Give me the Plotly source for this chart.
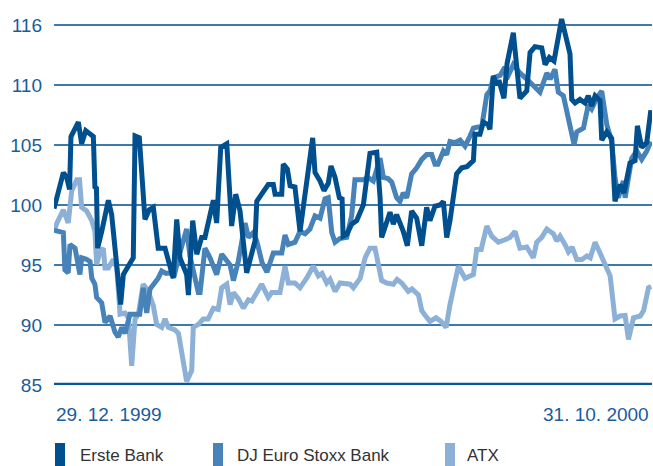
import plotly.graph_objects as go

# days after 29.12.1999
erste_days = [0.0, 4.8, 6.5, 8.0, 8.7, 12.5, 14.2, 16.3, 20.2, 21.0, 21.8, 22.4, 24.5, 27.9, 29.6,
              34.2, 35.6, 38.1, 40.7, 41.6, 43.8, 46.7, 48.9, 51.0, 53.5, 57.0, 61.2, 63.0, 64.7,
              68.1, 69.0, 71.2, 73.3, 75.8, 77.5, 81.8, 83.5, 85.6, 88.7, 91.2, 93.3, 95.5, 98.9,
              103.2, 104.1, 106.6, 110.0, 112.6, 113.5, 116.9, 117.7, 119.8, 121.2, 123.7, 126.3,
              132.8, 134.0, 136.6, 138.6, 140.8, 142.2, 144.3, 146.5, 147.9, 148.4, 150.3, 152.8,
              155.4, 158.8, 162.2, 165.7, 167.4, 168.2, 172.5, 174.2, 175.9, 179.3, 181.4, 183.6,
              186.2, 188.8, 191.3, 193.0, 195.6, 198.2, 199.9, 201.6, 203.3, 206.7, 209.3, 212.0,
              215.3, 216.1, 218.7, 220.4, 222.8, 223.8, 225.5, 227.4, 228.4, 231.0, 232.6, 235.8,
              239.2, 242.7, 244.4, 246.9, 250.4, 252.1, 254.3, 256.7, 260.6, 264.9, 265.8, 267.5,
              270.0, 272.6, 274.3, 276.0, 277.8, 280.3, 281.2, 283.8, 286.3, 288.0, 290.6, 292.6,
              295.7, 298.3, 299.5, 301.7, 304.3, 306.4]
erste_vals = [99.7, 102.7, 102.3, 101.3, 105.7, 106.9, 105.1, 106.2, 105.7, 101.5, 101.4, 96.4, 97.8, 100.4, 99.2,
              91.7, 94.2, 94.8, 95.6, 105.75, 105.6, 98.8, 99.6, 99.8, 96.4, 96.4, 93.9, 98.8, 95.6,
              94.2, 92.5, 98.7, 95.9, 97.3, 97.3, 100.4, 98.5, 104.8, 105.1, 98.25, 100.9, 99.5, 94.35,
              97.0, 100.3, 100.9, 101.7, 101.7, 100.9, 100.9, 103.4, 103.0, 101.6, 101.5, 97.8,
              105.6, 102.7, 102.0, 101.2, 101.8, 103.25, 102.3, 100.6, 100.5, 97.4, 97.55, 98.4,
              98.7, 100.0, 104.3, 104.4, 100.6, 97.3, 99.4, 98.4, 99.2, 97.8, 96.6, 99.5,
              98.9, 96.6, 99.8, 98.7, 99.9, 100.0, 100.3, 97.3, 98.7, 102.6, 103.1, 103.2,
              103.7, 105.9, 105.9, 106.9, 106.7, 106.3, 110.75, 110.0, 110.4, 108.9, 111.8, 114.35,
              108.9, 109.5, 112.7, 113.2, 113.1, 111.7, 112.3, 112.0, 115.5, 112.6, 108.8, 108.5,
              108.8, 108.5, 109.1, 108.25, 109.1, 108.7, 105.4, 106.1, 105.55, 100.3, 101.7, 101.0,
              103.5, 103.7, 106.6, 104.8, 105.2, 107.9]

dj_days = [0.0, 4.8, 5.6, 7.3, 8.2, 10.8, 13.3, 14.2, 16.4, 18.5, 19.4, 21.0, 21.9, 24.5, 26.2,
           28.8, 31.3, 33.0, 34.8, 36.5, 39.0, 44.0, 45.8, 47.6, 49.3, 53.5, 55.3, 57.5, 59.6,
           61.6, 63.9, 66.4, 68.1, 69.8, 74.1, 75.0, 77.5, 80.1, 83.5, 86.1, 88.3, 90.4, 92.1,
           94.6, 98.1, 99.8, 102.3, 104.1, 106.8, 109.3, 112.6, 116.9, 118.6, 120.3, 123.7,
           126.3, 128.9, 131.4, 134.0, 136.6, 139.1, 140.8, 142.6, 144.3, 146.8, 150.3, 152.8,
           154.5, 158.8, 161.2, 163.9, 167.4, 169.1, 171.5, 173.4, 175.9, 177.6, 179.3, 181.1,
           183.6, 186.2, 188.8, 191.3, 193.9, 195.6, 197.1, 199.9, 201.6, 203.3, 205.9, 208.5,
           211.0, 213.6, 215.3, 217.7, 219.6, 222.2, 223.8, 225.5, 229.0, 231.5, 232.4, 235.8,
           239.2, 242.7, 246.1, 249.5, 253.0, 254.7, 257.2, 258.9, 261.5, 264.1, 267.0, 268.4,
           271.8, 274.3, 276.0, 278.6, 281.2, 283.8, 286.3, 288.0, 289.7, 292.3, 293.2, 296.6,
           299.2, 301.7, 304.3, 306.4]
dj_vals = [97.9, 97.7, 94.6, 94.35, 96.7, 96.4, 94.2, 95.6, 95.5, 95.3, 93.9, 93.4, 92.3, 91.85, 90.2,
           90.75, 89.4, 89.0, 89.8, 89.3, 90.9, 90.9, 93.1, 91.0, 93.0, 93.9, 94.5, 94.3, 94.35,
           94.0, 95.6, 97.0, 98.0, 95.75, 92.7, 92.7, 96.4, 95.6, 94.2, 95.9, 95.5, 95.0, 93.7,
           95.3, 98.5, 97.3, 97.7, 97.0, 95.2, 94.4, 96.0, 96.0, 97.5, 96.7, 96.9,
           97.8, 97.6, 98.0, 99.1, 98.9, 100.5, 100.6, 97.7, 96.9, 97.2, 97.3, 99.1,
           102.1, 102.1, 102.3, 102.0, 103.9, 102.3, 102.2, 101.9, 100.6, 100.3, 101.0, 100.6,
           102.6, 103.1, 103.8, 104.2, 104.2, 103.4, 103.4, 104.5, 104.2, 105.3, 105.2, 105.4,
           104.9, 105.75, 106.4, 106.5, 106.5, 109.2, 109.5, 110.6, 110.8, 111.5, 110.5, 111.7,
           111.0, 110.5, 109.9, 109.4, 111.0, 110.5, 111.3, 109.4, 109.1, 107.3, 105.05, 106.1,
           106.4, 108.35, 108.0, 108.9, 109.5, 106.7, 105.3, 102.3, 100.6, 102.0, 100.6, 103.9,
           104.5, 103.8, 104.5, 105.3]

atx_days = [0.0, 1.5, 4.8, 7.3, 9.1, 11.7, 13.1, 14.2, 16.8, 19.4, 21.0, 21.9, 23.6, 25.3, 26.2,
            27.9, 30.4, 32.2, 33.9, 36.5, 38.2, 39.9, 41.6, 43.3, 45.8, 48.4, 51.0, 52.7, 55.3,
            57.0, 58.7, 62.1, 63.9, 65.6, 68.1, 70.7, 71.5, 74.1, 76.6, 79.1, 81.8, 84.3, 86.1,
            88.7, 90.4, 92.1, 94.6, 97.2, 99.8, 101.6, 104.1, 106.6, 110.0, 111.8, 116.0, 118.6,
            120.3, 123.7, 126.3, 129.7, 133.1, 135.7, 137.6, 140.0, 141.7, 144.3, 146.8, 149.4,
            152.0, 153.7, 157.2, 159.7, 162.2, 164.8, 168.2, 170.8, 174.2, 176.1, 178.5, 181.9,
            183.8, 187.1, 188.8, 191.0, 193.0, 196.1, 198.7, 201.3, 203.3, 207.6, 211.0, 215.3,
            217.0, 219.3, 222.2, 224.7, 228.1, 231.5, 234.1, 236.7, 239.2, 242.7, 246.1, 247.8,
            250.4, 253.0, 256.4, 258.1, 259.8, 262.4, 264.1, 266.0, 268.4, 271.0, 273.6, 275.3,
            277.8, 280.3, 282.9, 285.5, 288.0, 290.6, 293.2, 294.9, 297.5, 301.0, 302.7, 305.2,
            306.6]
atx_vals = [97.8, 98.5, 99.6, 98.5, 101.2, 102.1, 102.1, 99.8, 99.5, 98.7, 97.8, 95.05, 96.1, 96.4, 94.75,
            94.75, 95.45, 94.8, 90.9, 91.0, 90.6, 86.6, 90.5, 90.9, 93.4, 92.8, 91.6, 90.05, 89.8,
            90.5, 89.8, 89.6, 89.3, 87.55, 85.3, 86.2, 89.8, 90.05, 90.5, 90.5, 91.4, 91.3, 93.1,
            93.4, 91.7, 92.7, 92.2, 91.4, 92.1, 92.0, 92.7, 93.4, 92.3, 92.7, 92.7, 94.9,
            93.5, 93.5, 93.1, 93.9, 94.9, 94.1, 94.3, 93.5, 93.8, 92.8, 93.5, 93.4,
            93.4, 93.1, 93.9, 95.6, 96.4, 96.4, 93.7, 93.5, 93.4, 93.8, 93.5, 92.8,
            93.0, 92.5, 91.2, 90.7, 90.3, 90.6, 90.3, 89.8, 91.7, 94.9, 93.9, 94.2,
            96.3, 96.3, 98.25, 97.4, 96.9, 97.1, 97.3, 97.8, 96.4, 96.5, 95.6, 96.9,
            97.3, 98.0, 97.6, 97.0, 97.4, 96.7, 96.1, 96.5, 95.45, 95.45, 95.75, 95.6,
            96.9, 96.0, 95.05, 94.1, 90.5, 90.75, 90.8, 88.8, 90.6, 90.75, 91.2, 93.1,
            93.2]

series_names = ["Erste Bank", "DJ Euro Stoxx Bank", "ATX"]
colors = ["#00508f", "#4783b8", "#8cb0d6"]
y_ticks = [85, 90, 95, 100, 105, 110, 115]
y_tick_text = ["85", "90", "95", "100", "105", "110", "116"]
date_labels = ["29. 12. 1999", "31. 10. 2000"]
period_days = 307

W, H = 653, 466
L, R, T, B = 54, 1, 1, 81
pw, ph = W - L - R, H - T - B

def px(xp):
    return (xp - L) / pw

def py(yp):
    return (H - B - yp) / ph

fig = go.Figure()
for days, vals, name, col in [(atx_days, atx_vals, series_names[2], colors[2]),
                              (dj_days, dj_vals, series_names[1], colors[1]),
                              (erste_days, erste_vals, series_names[0], colors[0])]:
    fig.add_trace(go.Scatter(x=days, y=vals, mode="lines", name=name,
                             line=dict(color=col, width=5), showlegend=False,
                             hoverinfo="skip"))

shapes = [dict(type="line", xref="paper", yref="y", x0=0, x1=1, y0=85, y1=85,
               line=dict(color="#0a5596", width=4.5), layer="above")]
annotations = [
    dict(text=date_labels[0], xref="paper", yref="paper", x=px(54), y=py(414),
         xanchor="left", yanchor="middle", showarrow=False,
         font=dict(size=19, color="#1a5c9c", family="Liberation Sans")),
    dict(text=date_labels[1], xref="paper", yref="paper", x=px(651), y=py(414),
         xanchor="right", yanchor="middle", showarrow=False,
         font=dict(size=19, color="#1a5c9c", family="Liberation Sans")),
]
legend_pos = [(55, 78), (213, 235), (445, 465)]
for (bx, tx), name, col in zip(legend_pos, series_names, colors):
    shapes.append(dict(type="rect", xref="paper", yref="paper", x0=px(bx), x1=px(bx + 10),
                       y0=py(467), y1=py(443), fillcolor=col, line=dict(width=0)))
    annotations.append(dict(text=name, xref="paper", yref="paper", x=px(tx), y=py(455),
                            xanchor="left", yanchor="middle", showarrow=False,
                            font=dict(size=17, color="#333333", family="Liberation Sans")))

fig.update_layout(
    width=W, height=H, margin=dict(l=L, r=R, t=T, b=B),
    paper_bgcolor="white", plot_bgcolor="white",
    xaxis=dict(range=[0, period_days], showgrid=False, zeroline=False, showticklabels=False,
               showline=False, fixedrange=True),
    yaxis=dict(range=[85, 117], tickvals=y_ticks, ticktext=y_tick_text, showgrid=True,
               gridcolor="#3f79ae", gridwidth=1.5, zeroline=False, showline=False,
               ticks="", ticklabelstandoff=11, fixedrange=True,
               tickfont=dict(size=19, color="#1a5c9c", family="Liberation Sans")),
    shapes=shapes, annotations=annotations,
)
fig.write_html("out.html", config={"displayModeBar": False},
               post_script="document.body.style.margin='0';document.body.style.overflow='hidden';")
